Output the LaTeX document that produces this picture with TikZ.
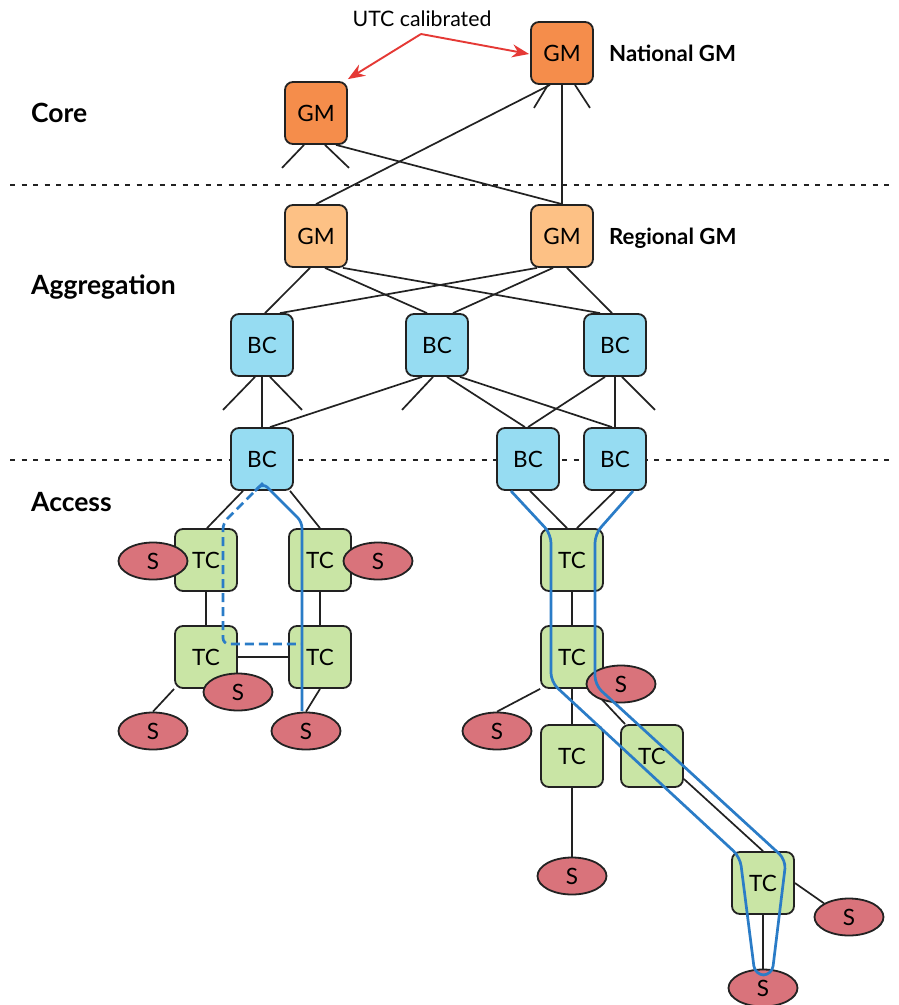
\documentclass[tikz,border=0pt]{standalone}
\usepackage{fontspec}
\setmainfont{Lato}
\usetikzlibrary{calc,backgrounds,shapes.geometric,arrows.meta}
\definecolor{coregm}{HTML}{F58D4B}
\definecolor{reggm}{HTML}{FDC185}
\definecolor{bcfill}{HTML}{96DCF2}
\definecolor{tcfill}{HTML}{C9E5A5}
\definecolor{sfill}{HTML}{D9737B}
\definecolor{edge}{HTML}{222222}
\definecolor{pathblue}{HTML}{2A7CC7}
\definecolor{utcred}{HTML}{E53935}
\tikzset{
  box/.style={draw=edge, line width=1.8pt, rounded corners=8pt, minimum width=62pt, minimum height=62pt, inner sep=0pt, font=\fontsize{22.5}{26}\selectfont},
  gmcore/.style={box, fill=coregm},
  gmreg/.style={box, fill=reggm},
  bcbox/.style={box, fill=bcfill},
  tcbox/.style={box, fill=tcfill},
  slave/.style={ellipse, draw=edge, line width=1.8pt, fill=sfill, minimum width=69pt, minimum height=37pt, inner sep=0pt, font=\fontsize{22.5}{26}\selectfont},
  link/.style={draw=edge, line width=1.7pt},
  sep/.style={draw=edge, line width=2pt, dash pattern=on 5pt off 6.5pt},
  layer/.style={font=\bfseries\fontsize{26.5}{30}\selectfont, anchor=west, inner sep=0pt},
  side/.style={font=\bfseries\fontsize{22.2}{26}\selectfont, anchor=west, inner sep=0pt},
  bluepath/.style={draw=pathblue, line width=2.7pt, rounded corners=9pt},
  utc/.style={draw=utcred, line width=1.9pt, -{Stealth[length=17pt,width=13pt]}}
}
\begin{document}
\begin{tikzpicture}[x=1pt,y=-1pt]
\useasboundingbox (0,0) rectangle (899,1005);
\begin{scope}[on background layer]
\fill[white] (0,0) rectangle (899,1005);
\end{scope}
% labels
\node[layer] (lcore) at (31,113) {Core};
\node[layer] (lagg) at (31,287) {Aggregation};
\node[layer] (lacc) at (31,502) {Access};
% core
\node[gmcore] (gmA) at (316,113) {GM};
\node[gmcore] (gmN) at (562,53) {GM};
\node[side] (lnat) at (609,53) {National GM};
\node[font=\fontsize{21.3}{25}\selectfont, inner sep=0pt] (lutc) at (422,19) {UTC calibrated};
\coordinate (utcsrc) at (421,34);
% aggregation
\node[gmreg] (gmR1) at (316,236) {GM};
\node[gmreg] (gmR2) at (562,236) {GM};
\node[side] (lreg) at (609,238) {Regional GM};
\node[bcbox] (bc1) at (262,345) {BC};
\node[bcbox] (bc2) at (437,345) {BC};
\node[bcbox] (bc3) at (615,345) {BC};
\node[bcbox] (bc4) at (262,459) {BC};
\node[bcbox] (bc5) at (528,459) {BC};
\node[bcbox] (bc6) at (615,459) {BC};
% access left
\node[tcbox] (tc1) at (206,560) {TC};
\node[tcbox] (tc2) at (320,560) {TC};
\node[tcbox] (tc3) at (206,657) {TC};
\node[tcbox] (tc4) at (320,657) {TC};
\node[slave] (s1) at (153,561) {S};
\node[slave] (s2) at (378,561) {S};
\node[slave] (s3) at (238,692) {S};
\node[slave] (s4) at (153,731) {S};
\node[slave] (s5) at (306,731) {S};
% access right
\node[tcbox] (tc5) at (572,560) {TC};
\node[tcbox] (tc6) at (572,657) {TC};
\node[tcbox] (tc7) at (572,756) {TC};
\node[tcbox] (tc8) at (652,756) {TC};
\node[tcbox] (tc9) at (763,883) {TC};
\node[slave] (s6) at (621,684) {S};
\node[slave] (s7) at (497,731) {S};
\node[slave] (s8) at (572,876) {S};
\node[slave] (s9) at (849,917) {S};
\node[slave] (s10) at (763,988) {S};
% links
\begin{scope}[on background layer]
\draw[sep] (10,185) -- (890,185);
\draw[sep] (10,460) -- (890,460);
\draw[link] ($(gmA.south)+(-12,0)$) -- ++(-22,23);
\draw[link] ($(gmA.south)+(9,0)$) -- ++(24,23);
\draw[link] ($(gmA.south)+(20,0)$) -- (gmR2.north);
\draw[link] ($(gmN.south)+(-12,0)$) -- (gmR1.north);
\draw[link] (gmN.south) -- (gmR2.north);
\draw[link] ($(gmN.south)+(-14,0)$) -- ++(-14,23);
\draw[link] ($(gmN.south)+(13,0)$) -- ++(15,23);
\draw[link] ($(gmR1.south)+(-6,0)$) -- ($(bc1.north)+(3,0)$);
\draw[link] ($(gmR1.south)+(9,0)$) -- ($(bc2.north)+(-10,0)$);
\draw[link] ($(gmR1.south)+(27,0)$) -- ($(bc3.north)+(-15,0)$);
\draw[link] ($(gmR2.south)+(-25,0)$) -- ($(bc1.north)+(18,0)$);
\draw[link] ($(gmR2.south)+(-9,0)$) -- ($(bc2.north)+(16,0)$);
\draw[link] ($(gmR2.south)+(5,0)$) -- ($(bc3.north)+(-3,0)$);
\draw[link] ($(bc1.south)+(-7,0)$) -- ++(-32,33);
\draw[link] ($(bc1.south)+(8,0)$) -- ++(32,33);
\draw[link] (bc1.south) -- (bc4.north);
\draw[link] ($(bc2.south)+(-15,0)$) -- ($(bc4.north)+(8,0)$);
\draw[link] ($(bc2.south)+(-4,0)$) -- ++(-31,33);
\draw[link] ($(bc2.south)+(10,0)$) -- ($(bc5.north)+(-3,0)$);
\draw[link] ($(bc2.south)+(23,0)$) -- ($(bc6.north)+(-3,0)$);
\draw[link] ($(bc3.south)+(-10,0)$) -- (bc5.north);
\draw[link] (bc3.south) -- (bc6.north);
\draw[link] ($(bc3.south)+(7,0)$) -- ++(33,33);
\draw[link] ($(bc4.south)+(-19,0)$) -- ($(tc1.north)+(1,0)$);
\draw[link] ($(bc4.south)+(28,0)$) -- (tc2.north);
\draw[link] (tc1) -- (tc3);
\draw[link] (tc2) -- (tc4);
\draw[link] (tc3) -- (tc4);
\draw[link] (tc3.south west) -- (s4.north);
\draw[link] (tc4.south) -- (s5.north);
\draw[link] ($(bc5.south)+(2,0)$) -- ($(tc5.north)+(-5,0)$);
\draw[link] (bc6.south) -- ($(tc5.north)+(5,0)$);
\draw[link] (tc5) -- (tc6);
\draw[link] (tc6.south west) -- (s7.north);
\draw[link] (tc6) -- (tc7);
\draw[link] ($(tc6.south)+(20,0)$) -- ($(tc8.north west)+(5,0)$);
\draw[link] (tc7) -- (s8);
\draw[link] ($(tc8.east)+(0,23)$) -- (tc9.north);
\draw[link] (tc9.east) -- (s9.north west);
\draw[link] (tc9) -- (s10);
\end{scope}
% UTC arrows
\draw[utc] (utcsrc) -- ($(gmA.north east)+(0,-2)$);
\draw[utc] (utcsrc) -- ($(gmN.west)+(-1,1)$);
% blue paths
\draw[bluepath, rounded corners=6pt] (255,491) -- (263,483) -- (302,522) -- (302,711);
\draw[bluepath, rounded corners=6pt, dash pattern=on 9pt off 5pt] (263,483) -- (223,523) -- (223,644) -- (302,644);
\draw[bluepath] (511,491) -- (551,534) -- (551,682) -- (740,857) -- (755,975) -- (772,975) -- (786,860) -- (595,685) -- (595,534) -- (633,491);
\end{tikzpicture}
\end{document}
